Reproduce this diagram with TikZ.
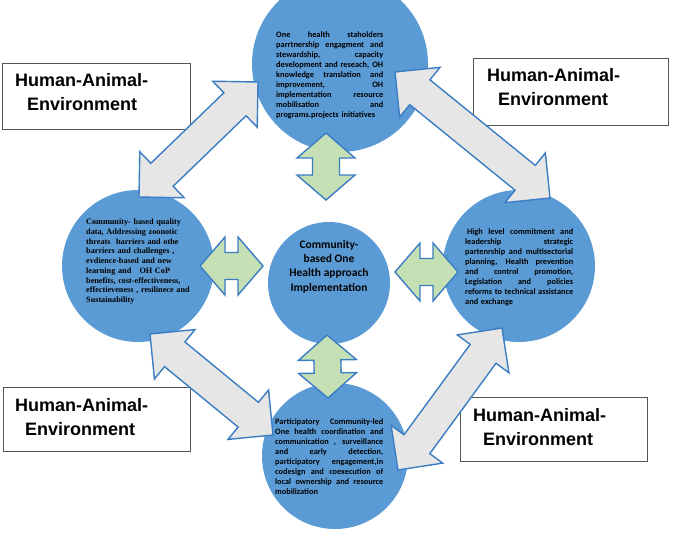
\documentclass[tikz,border=0pt]{standalone}
\usepackage{fontspec}
\setmainfont{Carlito}
\newfontfamily\arialf{Liberation Sans}
\newfontfamily\timesf{Liberation Serif}
\usetikzlibrary{calc}
\definecolor{circblue}{RGB}{91,155,213}
\definecolor{arrowline}{RGB}{58,125,196}
\definecolor{grayfill}{RGB}{231,230,230}
\definecolor{greenfill}{RGB}{197,224,180}
\definecolor{boxline}{RGB}{85,85,85}
\newcommand{\jl}[2][108pt]{{\spaceskip=0pt\xspaceskip=0pt\makebox[#1][s]{#2}}}
% #1 style, #2 name, #3 tip A, #4 tip B, #5 head length, #6 head half width, #7 shaft half width
\newcommand{\blockarrow}[7]{%
  \coordinate (#2-a) at ($(#3)!#5!(#4)$);
  \coordinate (#2-b) at ($(#4)!#5!(#3)$);
  \draw[#1] (#3) -- ($(#2-a)!#6!90:(#4)$) -- ($(#2-a)!#7!90:(#4)$)
    -- ($(#2-b)!#7!-90:(#3)$) -- ($(#2-b)!#6!-90:(#3)$) -- (#4)
    -- ($(#2-b)!#6!90:(#3)$) -- ($(#2-b)!#7!90:(#3)$)
    -- ($(#2-a)!#7!-90:(#4)$) -- ($(#2-a)!#6!-90:(#4)$) -- cycle;
}
\tikzset{
  circ/.style={circle, fill=circblue, draw=none, inner sep=0pt},
  grayarrow/.style={fill=grayfill, draw=arrowline, line width=1.4pt, line join=miter},
  greenarrow/.style={fill=greenfill, draw=arrowline, line width=1.4pt, line join=miter},
  hbox/.style={draw=boxline, line width=0.9pt, fill=white, inner sep=0pt},
  htext/.style={font=\arialf\bfseries\fontsize{18}{24}\selectfont, align=left, inner sep=0pt, anchor=north west},
  ctext/.style={font=\bfseries\fontsize{8.3}{10}\selectfont, align=left, inner sep=0pt, anchor=north west},
  ltext/.style={font=\timesf\bfseries\fontsize{8.2}{9.7}\selectfont, align=left, inner sep=0pt, anchor=north west},
  mtext/.style={font=\bfseries\fontsize{11.5}{14.3}\selectfont, align=center, inner sep=0pt}
}
\begin{document}
\begin{tikzpicture}[x=1pt,y=-1pt]
\useasboundingbox (0,0) rectangle (674,533);
% circles
\node[circ, minimum size=176pt] (ctop) at (340,64) {};
\node[circ, minimum size=152pt] (cleft) at (138,266) {};
\node[circ, minimum size=152pt] (cright) at (519,266) {};
\node[circ, minimum size=122pt] (ccenter) at (329,283) {};
\node[circ, minimum size=146pt] (cbottom) at (335,456) {};
% boxes
\node[hbox, minimum width=188pt, minimum height=66pt] (bTL) at (96,96) {};
\node[hbox, minimum width=195pt, minimum height=67pt] (bTR) at (570.5,91.5) {};
\node[hbox, minimum width=187pt, minimum height=64pt] (bBL) at (96.5,419) {};
\node[hbox, minimum width=187pt, minimum height=64pt] (bBR) at (553.5,429) {};
\node[htext] (tTL) at (15,73.5) {Human-Animal-\\\hspace*{12pt}Environment};
\node[htext] (tTR) at (487,68.5) {Human-Animal-\\\hspace*{11pt}Environment};
\node[htext] (tBL) at (15,398.5) {Human-Animal-\\\hspace*{10pt}Environment};
\node[htext] (tBR) at (473,408.5) {Human-Animal-\\\hspace*{10pt}Environment};
% gray double arrows
\coordinate (gTLa) at (258,82);  \coordinate (gTLb) at (139,197);
\coordinate (gTRa) at (395,72);  \coordinate (gTRb) at (550,198);
\coordinate (gBLa) at (150,334); \coordinate (gBLb) at (273,435);
\coordinate (gBRa) at (502,328); \coordinate (gBRb) at (398,470);
\blockarrow{grayarrow}{gTL}{gTLa}{gTLb}{32pt}{32pt}{16pt}
\blockarrow{grayarrow}{gTR}{gTRa}{gTRb}{32pt}{32pt}{16pt}
\blockarrow{grayarrow}{gBL}{gBLa}{gBLb}{32pt}{32pt}{16pt}
\blockarrow{grayarrow}{gBR}{gBRa}{gBRb}{32pt}{32pt}{16pt}
% green double arrows
\coordinate (vTa) at (326,133); \coordinate (vTb) at (326,200);
\coordinate (vBa) at (327,335); \coordinate (vBb) at (328,398);
\coordinate (hLa) at (200,266); \coordinate (hLb) at (263,266);
\coordinate (hRa) at (395,272); \coordinate (hRb) at (458,272);
\blockarrow{greenarrow}{vT}{vTa}{vTb}{25pt}{29pt}{13.5pt}
\blockarrow{greenarrow}{vB}{vBa}{vBb}{25pt}{29pt}{13.5pt}
\blockarrow{greenarrow}{hL}{hLa}{hLb}{25pt}{29pt}{13.5pt}
\blockarrow{greenarrow}{hR}{hRa}{hRb}{25pt}{29pt}{13.5pt}
% circle texts
\node[ctext, text width=107pt] (xtop) at (276,31) {%
\jl[107pt]{One health staholders}\\
\jl[107pt]{parrtnership engagment and}\\
\jl[107pt]{stewardship, capacity}\\
\jl[107pt]{development and reseach, OH}\\
\jl[107pt]{knowledge translation and}\\
\jl[107pt]{improvement, OH}\\
\jl[107pt]{implementation resource}\\
\jl[107pt]{mobilisation and}\\
programs.projects initiatives};
\node[ctext, text width=108pt] (xright) at (465,228) {%
\jl{\hspace*{2pt}High level commitment and}\\
\jl{leadership strategic}\\
\jl{partenrship and multisectorial}\\
\jl{planning, Health prevention}\\
\jl{and control promotion,}\\
\jl{Legislation and policies}\\
\jl{reforms to technical assistance}\\
and exchange};
\node[ctext, text width=108pt] (xbottom) at (275,418) {%
\jl{Participatory Community-led}\\
\jl{One health  coordination and}\\
\jl{communication , surveillance}\\
\jl{and early detection,}\\
\jl{participatory engagement,in}\\
\jl{codesign and coexecution of}\\
\jl{local ownership and  resource}\\
mobilization};
\node[ltext, text width=110pt] (xleft) at (86,219) {Community- based quality\\
data, Addressing zoonotic\\
threats\ \ barriers and othe\\
barriers and challenges ,\\
evdience-based and new\\
learning and\ \ \ OH CoP\\
benefits, cost-effectiveness,\\
effectieveness , resilinece and\\
Sustainability};
\node[mtext] (xcenter) at (329,266.5) {Community-\\based One\\Health approach\\Implementation};
\end{tikzpicture}
\end{document}
